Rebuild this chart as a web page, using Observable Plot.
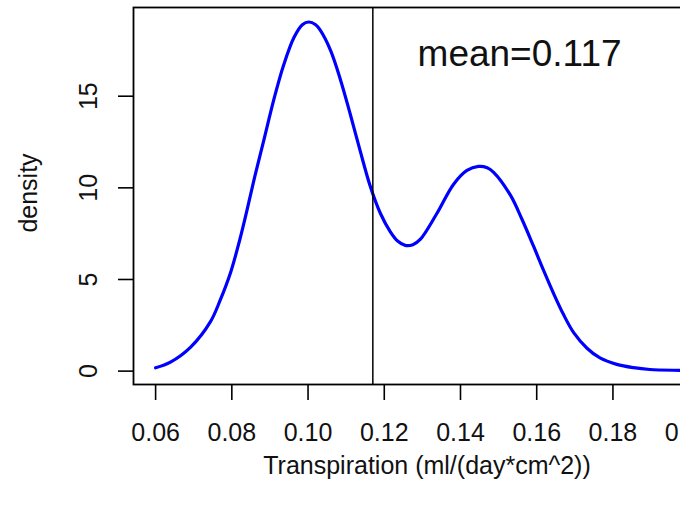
<!DOCTYPE html>
<html>
<head>
<meta charset="utf-8">
<script src="https://cdn.jsdelivr.net/npm/d3@7"></script>
<script src="https://cdn.jsdelivr.net/npm/@observablehq/plot@0.6"></script>
<style>
  html, body { margin: 0; padding: 0; background: #fff; overflow: hidden; width: 680px; height: 515px; }
  #chart { width: 680px; height: 515px; overflow: hidden; }
  #chart svg { display: block; max-width: none !important; width: 730px; height: 515px; }
</style>
</head>
<body>
<div id="chart"></div>
<script>
// Density curve (Transpiration, ml/(day*cm^2))
const transpiration = [0.0600, 0.0639, 0.0692, 0.0744, 0.0770, 0.0797, 0.0820, 0.0840, 0.0860,
  0.0884, 0.0910, 0.0936, 0.0963, 0.0985, 0.1002, 0.1020, 0.1032, 0.1059, 0.1085, 0.1111,
  0.1137, 0.1163, 0.1190, 0.1216, 0.1235, 0.1255, 0.1275, 0.1295, 0.1338, 0.1382, 0.1417,
  0.1447, 0.1470, 0.1487, 0.1531, 0.1561, 0.1592, 0.1618, 0.1644, 0.1670, 0.1697, 0.1732,
  0.1766, 0.1810, 0.1854, 0.1897, 0.1976, 0.2040];
const density = [0.18, 0.49, 1.31, 2.70, 3.90, 5.40, 7.10, 8.80, 10.6,
  12.6, 14.8, 16.7, 18.2, 18.9, 19.05, 18.9, 18.6, 17.5, 15.9, 14.0,
  12.0, 10.1, 8.60, 7.60, 7.10, 6.86, 6.90, 7.20, 8.60, 10.2, 10.95,
  11.17, 11.10, 10.85, 9.60, 8.30, 6.80, 5.50, 4.25, 3.10, 2.10, 1.25,
  0.72, 0.37, 0.19, 0.09, 0.04, 0.02];
const meanValue = 0.117;
const meanLabel = "mean=0.117";
const xTicks = [0.06, 0.08, 0.10, 0.12, 0.14, 0.16, 0.18, 0.20];
const yTicks = [0, 5, 10, 15];
const xLabel = "Transpiration (ml/(day*cm^2))";
const yLabel = "density";

const curve = transpiration.map((x, i) => ({x, y: density[i]}));
const font = "Liberation Sans, Arial, Helvetica, sans-serif";

const chart = Plot.plot({
  width: 730,
  height: 515,
  marginLeft: 133,
  marginRight: 4,
  marginTop: 7,
  marginBottom: 131,
  style: {fontFamily: font, background: "white", overflow: "visible", maxWidth: "none"},
  x: {domain: [0.0542, 0.2098], label: null},
  y: {domain: [-0.73, 19.84], label: null},
  marks: [
    Plot.axisX({ticks: xTicks, tickSize: 16, tickPadding: 23, tickFormat: d3.format(".2f"),
      fontSize: 25, stroke: "black", strokeWidth: 1.6, fill: "#111", label: null}),
    Plot.axisY({ticks: yTicks, tickSize: 15, tickFormat: () => "", stroke: "black", strokeWidth: 1.6, label: null}),
    Plot.text(yTicks, {y: d => d, text: d => String(d), frameAnchor: "left", dx: -45,
      rotate: -90, textAnchor: "middle", lineAnchor: "middle", fontSize: 25, fill: "#111"}),
    Plot.text([yLabel], {text: d => d, frameAnchor: "left", dx: -105, dy: -3, rotate: -90,
      textAnchor: "middle", lineAnchor: "middle", fontSize: 25, fill: "#111"}),
    Plot.text([xLabel], {text: d => d, frameAnchor: "bottom", dy: 81, dx: -3,
      textAnchor: "middle", lineAnchor: "middle", fontSize: 25, fill: "#111"}),
    Plot.line(curve, {x: "x", y: "y", stroke: "#0000ff", strokeWidth: 3.2, curve: "catmull-rom"}),
    Plot.ruleX([meanValue], {stroke: "black", strokeWidth: 1.5}),
    Plot.text([meanLabel], {x: 0.1555, y: 17.3, text: d => d, textAnchor: "middle", lineAnchor: "middle",
      fontSize: 37, fill: "#111"}),
    Plot.frame({stroke: "black", strokeWidth: 1.8})
  ]
});
document.getElementById("chart").appendChild(chart);
</script>
</body>
</html>
